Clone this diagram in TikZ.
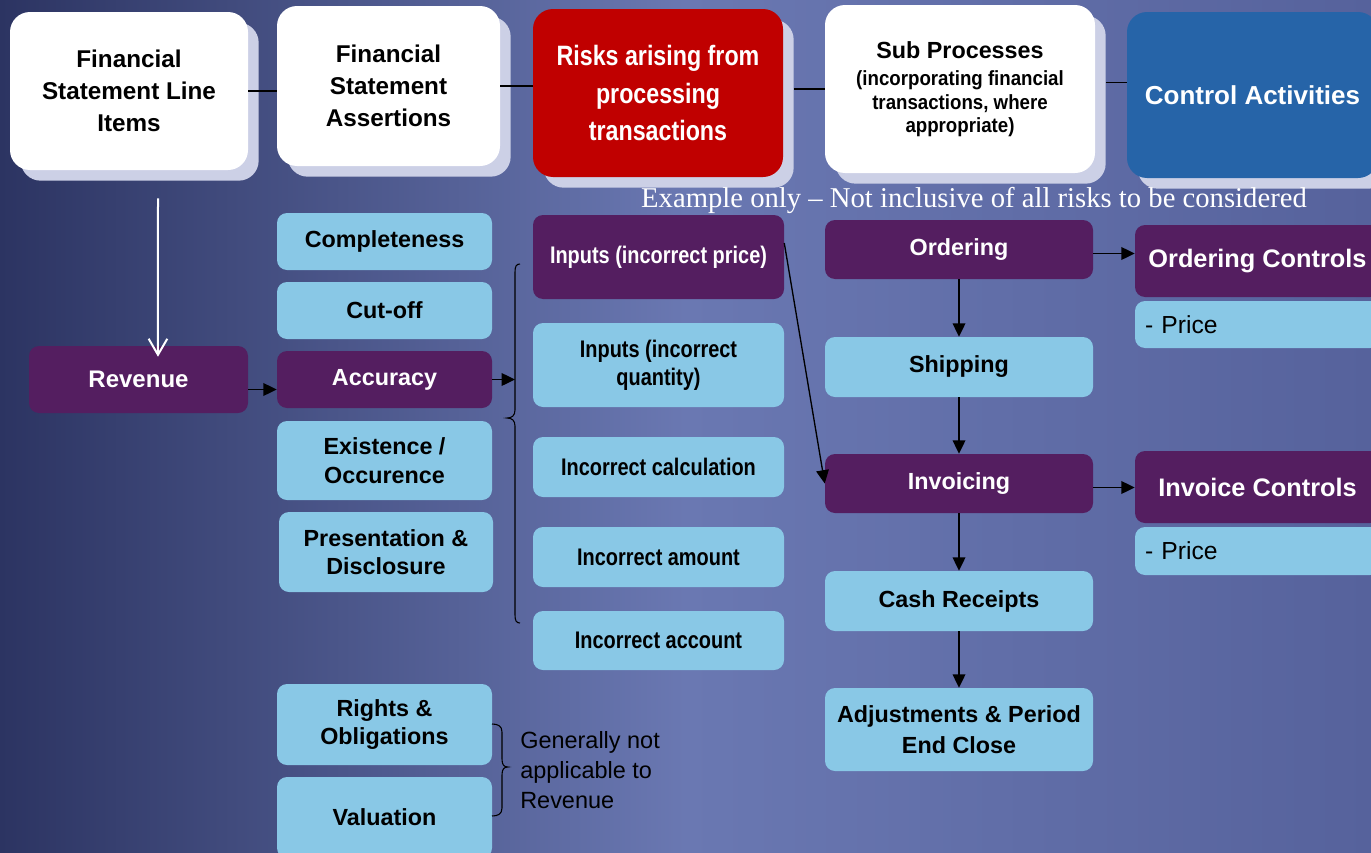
\documentclass[tikz,border=0pt]{standalone}
\usepackage{fontspec}
\setmainfont{Liberation Sans}
\newfontfamily\narrowf[FakeStretch=0.83]{Liberation Sans}
\newfontfamily\midf[FakeStretch=0.91]{Liberation Sans}
\newfontfamily\serf[Ligatures=TeX]{Liberation Serif}
\usetikzlibrary{arrows.meta,shadows}
\definecolor{purp}{RGB}{84,30,96}
\definecolor{lblue}{RGB}{137,200,230}
\definecolor{hred}{RGB}{192,0,0}
\definecolor{cblue}{RGB}{38,100,168}
\definecolor{shad}{RGB}{204,208,230}
\definecolor{bgL}{RGB}{44,52,98}
\definecolor{bgM}{RGB}{106,120,178}
\definecolor{bgR}{RGB}{86,98,156}
\newcommand\mkbox[7]{\node[#6, minimum width={(#4-#2)*0.75pt}, minimum height={(#5-#3)*0.75pt}] (#1) at ({(#2+#4)/2},{(#3+#5)/2}) {#7};}
\begin{document}
\begin{tikzpicture}[x=0.75pt,y=-0.75pt,
 bx/.style={rectangle, rounded corners=7.5pt, inner sep=0pt, align=center},
 lb/.style={bx, fill=lblue, text=black, font=\bfseries\fontsize{17.5}{21.5}\selectfont},
 pu/.style={bx, fill=purp, text=white, font=\bfseries\fontsize{17.5}{21.5}\selectfont},
 nar/.style={font=\narrowf\bfseries\fontsize{18}{21}\selectfont},
 hdr/.style={rectangle, rounded corners=15pt, inner sep=0pt, align=center, drop shadow={shadow xshift=8pt, shadow yshift=-8pt, fill=shad, opacity=1}},
 hfont/.style={font=\bfseries\fontsize{18.2}{24}\selectfont},
 pricebox/.style={rectangle, rounded corners=7.5pt, fill=lblue, text=black, inner xsep=7.5pt, inner ysep=0pt, align=left, text width={(245)*0.75pt-15pt}, font=\fontsize{18.5}{22}\selectfont},
 conn/.style={draw=black, line width=1pt},
 arr/.style={conn, -{Triangle[length=10pt,width=9.5pt]}},
 brc/.style={draw=black, line width=0.8pt},
]
\useasboundingbox (0,0) rectangle (1371,853);
\clip (0,0) rectangle (1371,853);
\shade[left color=bgL, right color=bgR, middle color=bgM] (0,0) rectangle (1371,853);

% header row
\mkbox{FSLI}{10}{12}{248}{170}{hdr, fill=white, text=black, hfont}{Financial\\Statement Line\\Items}
\mkbox{FSA}{277}{6}{500}{166}{hdr, fill=white, text=black, hfont}{Financial\\Statement\\Assertions}
\mkbox{Risks}{533}{9}{783}{177}{hdr, fill=hred, text=white, font=\narrowf\bfseries\fontsize{21}{28}\selectfont}{Risks arising from\\processing\\transactions}
\mkbox{Sub}{825}{5}{1095}{173}{hdr, fill=white, text=black, font=\midf\bfseries\fontsize{15.4}{17.6}\selectfont}{{\fontsize{17.5}{17.6}\selectfont\normalfont\bfseries Sub Processes}\\[3pt](incorporating financial\\transactions, where\\appropriate)}
\mkbox{Ctrl}{1127}{12}{1378}{178}{hdr, fill=cblue, text=white, font=\bfseries\fontsize{19.5}{23}\selectfont}{Control Activities}

\draw[conn] (FSLI.east) -- (FSLI.east -| FSA.west);
\draw[conn] (FSA.east) -- (FSA.east -| Risks.west);
\draw[conn] ([xshift=8pt,yshift=3pt]Risks.east) -- ([yshift=3pt]Risks.east -| Sub.west);
\draw[conn] ([xshift=8pt,yshift=5pt]Sub.east) -- ([yshift=5pt]Sub.east -| Ctrl.west);

\node[text=white, font=\serf\fontsize{21.5}{24}\selectfont] (note) at (974,200) {Example only – Not inclusive of all risks to be considered};

% line item
\mkbox{Rev}{29}{346}{248}{413}{pu, font=\bfseries\fontsize{18}{21}\selectfont}{Revenue}
\draw[white, line width=1.5pt, -{Straight Barb[length=12pt,width=14pt]}] ([xshift=21.75pt,yshift=-21pt]FSLI.south) -- ([xshift=14.6pt,yshift=-8.25pt]Rev.north);

% assertions
\mkbox{Compl}{277}{213}{492}{270}{lb}{Completeness}
\mkbox{Cut}{277}{282}{492}{339}{lb}{Cut-off}
\mkbox{Acc}{277}{351}{492}{408}{pu}{Accuracy}
\mkbox{Exist}{277}{421}{492}{500}{lb}{Existence /\\Occurence}
\mkbox{Pres}{279}{512}{493}{592}{lb}{Presentation \&\\Disclosure}
\mkbox{Rights}{277}{684}{492}{765}{lb}{Rights \&\\Obligations}
\mkbox{Val}{277}{777}{492}{858}{lb}{Valuation}

\draw[arr] ([yshift=-7.5pt]Rev.east) -- ([yshift=-7.5pt]Rev.east -| Acc.west);

% big brace
\coordinate (bi) at (515,383);
\draw[brc] (520,264) .. controls (516.5,264) and (515,266) .. (515,272) -- (515,410) .. controls (515,415.5) and (512,418) .. (507,418) .. controls (512,418) and (515,420.5) .. (515,426) -- (515,615) .. controls (515,621) and (516.5,623) .. (520,623);
\draw[arr] (Acc.east) -- (Acc.east -| bi);

% risks
\mkbox{InP}{533}{215}{784}{299}{pu,nar}{Inputs (incorrect price)}
\mkbox{InQ}{533}{323}{784}{407}{lb,nar}{Inputs (incorrect\\quantity)}
\mkbox{Calc}{533}{437}{784}{497}{lb,nar}{Incorrect calculation}
\mkbox{Amt}{533}{527}{784}{587}{lb,nar}{Incorrect amount}
\mkbox{Acct}{533}{611}{784}{670}{lb,nar}{Incorrect account}

% sub processes
\mkbox{Ord}{825}{220}{1093}{279}{pu}{Ordering}
\mkbox{Ship}{825}{337}{1093}{397}{lb}{Shipping}
\mkbox{Inv}{825}{454}{1093}{513}{pu}{Invoicing}
\mkbox{Cash}{825}{571}{1093}{631}{lb}{Cash Receipts}
\mkbox{Adj}{825}{688}{1093}{771}{lb, font=\bfseries\fontsize{17.5}{23}\selectfont}{Adjustments \& Period\\End Close}

\draw[arr] (Ord.south) -- (Ship.north);
\draw[arr] (Ship.south) -- (Inv.north);
\draw[arr] (Inv.south) -- (Cash.north);
\draw[arr] (Cash.south) -- (Adj.north);
\draw[arr] ([yshift=10.5pt]InP.east) -- (Inv.west);

% controls
\mkbox{OC}{1135}{225}{1380}{297}{pu, font=\bfseries\fontsize{19}{22}\selectfont}{Ordering Controls}
\node[pricebox, minimum height={47*0.75pt}] (P1) at (1257.5,324.5) {- Price};
\mkbox{IC}{1135}{451}{1380}{523}{pu, font=\bfseries\fontsize{19}{22}\selectfont}{Invoice Controls}
\node[pricebox, minimum height={48*0.75pt}] (P2) at (1257.5,551) {- Price};

\draw[arr] ([yshift=-3pt]Ord.east) -- ([yshift=-3pt]Ord.east -| OC.west);
\draw[arr] ([yshift=-3pt]Inv.east) -- ([yshift=-3pt]Inv.east -| IC.west);

% small brace and note
\draw[brc] (492,724) .. controls (498,724) and (502,726) .. (502,732) -- (502,759) .. controls (502,765) and (504,767) .. (508,767) .. controls (504,767) and (502,769) .. (502,775) -- (502,808) .. controls (502,814) and (498,816) .. (492,816);
\node[anchor=west, align=left, text=black, inner sep=0pt, font=\fontsize{17.6}{22.5}\selectfont] (gen) at (520,770) {Generally not\\applicable to\\Revenue};
\end{tikzpicture}
\end{document}
